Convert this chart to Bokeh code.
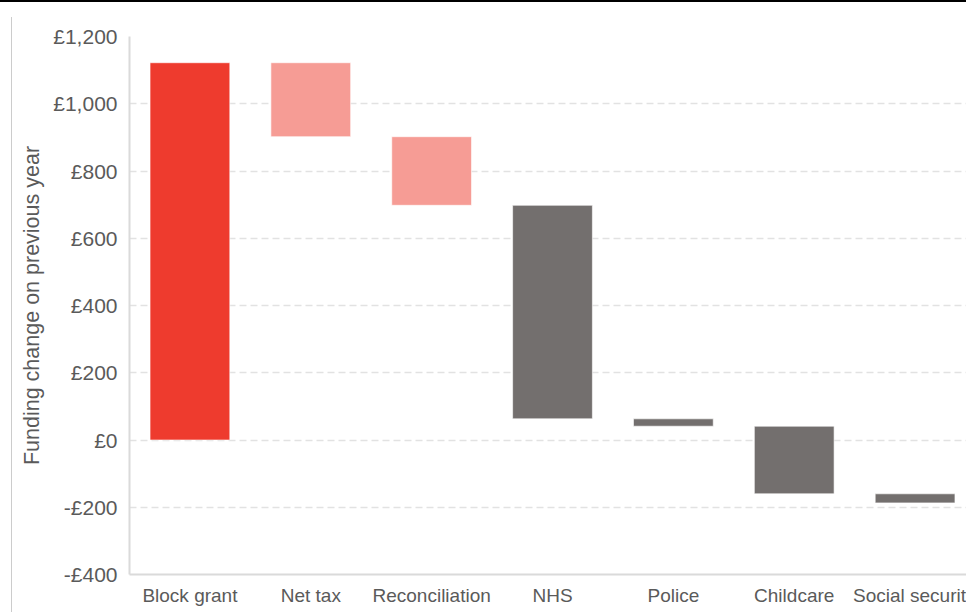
from bokeh.plotting import figure
from bokeh.models import Range1d, FixedTicker, ColumnDataSource, Div, Spacer
from bokeh.layouts import column, row
from bokeh.embed import file_html
from bokeh.resources import INLINE

# Waterfall of year-on-year funding changes (£m)
categories = ["Block grant", "Net tax", "Reconciliation", "NHS", "Police",
              "Childcare", "Social security"]
changes = [1122, -220, -204, -635, -22, -201, -27]
bar_colors = ["#EE3B2E", "#F69C95", "#F69C95", "#736F6E", "#736F6E",
              "#736F6E", "#736F6E"]

y_ticks = [-400, -200, 0, 200, 400, 600, 800, 1000, 1200]
y_tick_labels = ["-£400", "-£200", "£0", "£200", "£400", "£600", "£800",
                 "£1,000", "£1,200"]

# Running totals give each floating bar its base and top
bottoms, tops = [], []
running = 0
for i, c in enumerate(changes):
    if i == 0:
        bottoms.append(0)
        tops.append(c)
    else:
        tops.append(running)
        bottoms.append(running + c)
    running += c

src = ColumnDataSource(dict(
    x=list(range(len(categories))),
    bottom=bottoms,
    top=tops,
    color=bar_colors,
))

TEXT = "#5A5A5A"
AXIS = "#DADADA"
FONT = "Liberation Sans"

p = figure(
    width=963, height=610,
    x_range=Range1d(-0.5, 6.5),
    y_range=Range1d(-400, 1200),
    output_backend="svg",
    toolbar_location=None,
    min_border_left=117, min_border_right=0,
    min_border_top=34, min_border_bottom=38,
)
p.outline_line_color = None
p.background_fill_color = "white"
p.border_fill_color = "white"

p.vbar(x="x", width=0.66, bottom="bottom", top="top", source=src,
       fill_color="color", line_color="white", line_width=1, line_alpha=0.6)

# y axis
p.yaxis.ticker = FixedTicker(ticks=y_ticks)
p.yaxis.major_label_overrides = {t: l for t, l in zip(y_ticks, y_tick_labels)}
p.yaxis.axis_label = "Funding change on previous year"
p.yaxis.axis_label_text_font = FONT
p.yaxis.axis_label_text_font_size = "21.5px"
p.yaxis.axis_label_text_font_style = "normal"
p.yaxis.axis_label_text_color = TEXT
p.yaxis.axis_label_standoff = 6
p.yaxis.major_label_text_font = FONT
p.yaxis.major_label_text_font_size = "21px"
p.yaxis.major_label_text_color = TEXT
p.yaxis.major_label_standoff = 12
p.yaxis.major_tick_line_color = None
p.yaxis.major_tick_out = 0
p.yaxis.major_tick_in = 0
p.yaxis.minor_tick_line_color = None
p.yaxis.minor_tick_out = 0
p.yaxis.axis_line_color = AXIS
p.yaxis.axis_line_width = 2

# x axis
p.xaxis.ticker = FixedTicker(ticks=list(range(len(categories))))
p.xaxis.major_label_overrides = {i: c for i, c in enumerate(categories)}
p.xaxis.major_label_text_font = FONT
p.xaxis.major_label_text_font_size = "19px"
p.xaxis.major_label_text_color = TEXT
p.xaxis.major_label_standoff = 10
p.xaxis.major_tick_line_color = None
p.xaxis.major_tick_out = 0
p.xaxis.major_tick_in = 0
p.xaxis.minor_tick_line_color = None
p.xaxis.minor_tick_out = 0
p.xaxis.axis_line_color = AXIS
p.xaxis.axis_line_width = 2

p.xgrid.grid_line_color = None
p.ygrid.grid_line_color = "#E2E2E2"
p.ygrid.grid_line_width = 1.5
p.ygrid.grid_line_dash = "7 4"

top_rule = Div(width=975, height=2, margin=0,
               styles={"background-color": "#000000"})
side_rule = Div(width=1, height=595, margin=(15, 0, 0, 0),
                styles={"background-color": "#CCCCCC"})
page = column(
    top_rule,
    row(Spacer(width=11, height=610, margin=0), side_rule, p, spacing=0),
    spacing=0,
)

html = file_html(page, INLINE)
# the chart runs past the right edge of the page; keep the page from scrolling
html = html.replace("<head>", "<head><style>html, body { overflow: hidden; }</style>", 1)
open("out.html", "w").write(html)
